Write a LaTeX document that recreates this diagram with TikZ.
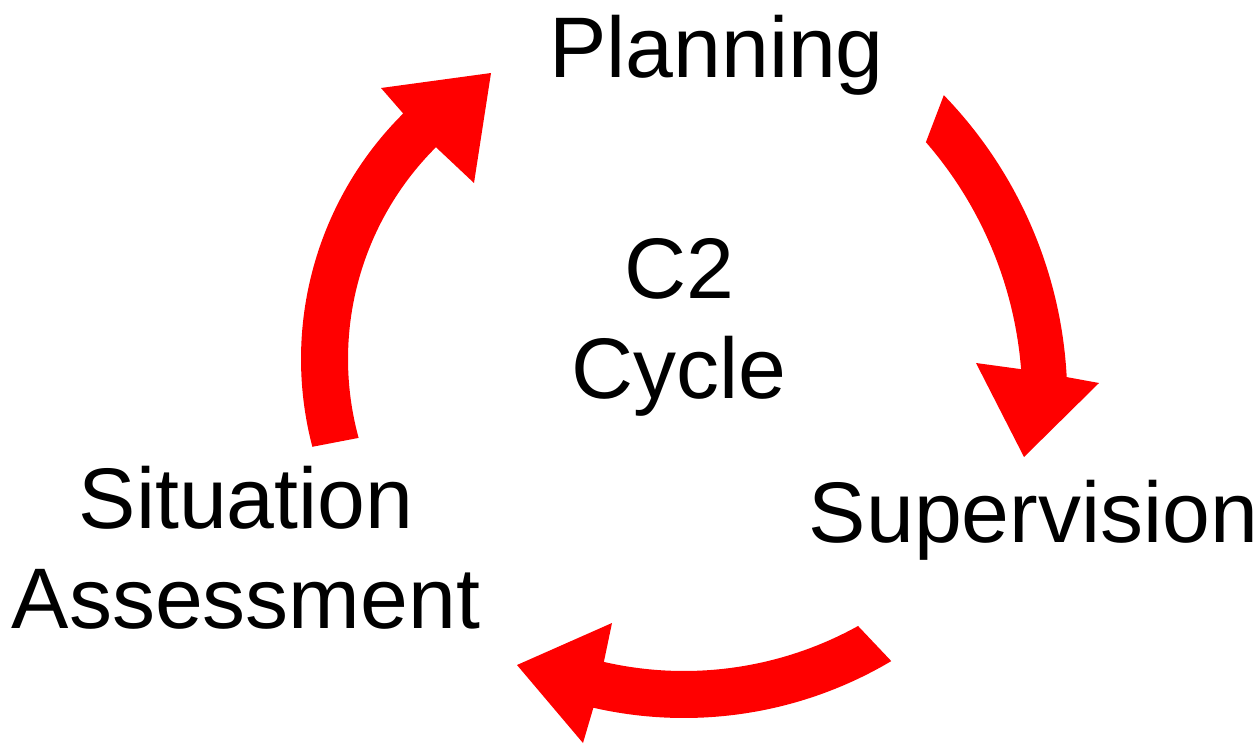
\documentclass[tikz,border=0pt]{standalone}
\usepackage{fontspec}
\setmainfont{Liberation Sans}
\begin{document}
\begin{tikzpicture}[x=1pt,y=-1pt,
  arrowfill/.style={fill=arrowred},
  label/.style={inner sep=0pt,align=center,anchor=base,
    font=\fontsize{86}{100}\selectfont}]
\definecolor{arrowred}{RGB}{255,0,0}
\useasboundingbox (0,0) rectangle (1259,744);
% circle centres of the three curved arrows
\coordinate (cL) at (647,359);
\coordinate (cR) at (629.3,400);
\coordinate (cB) at (684,312);
% left arrow: Situation Assessment -> Planning
\fill[arrowfill] ([shift={(165.3:346)}]cL) arc[start angle=165.3,end angle=225.2,radius=346]
  -- (381,88) -- (491,73) -- (474,183)
  -- ([shift={(225.1:299)}]cL) arc[start angle=225.1,end angle=164.7,radius=299] -- cycle;
% right arrow: Planning -> Supervision
\fill[arrowfill] ([shift={(-44.1:438)}]cR) arc[start angle=-44.1,end angle=-3,radius=438]
  -- (1099,383) -- (1024,457) -- (976,363)
  -- ([shift={(-4.5:393)}]cR) arc[start angle=-4.5,end angle=-41,radius=393] -- cycle;
% bottom arrow: Supervision -> Situation Assessment
\fill[arrowfill] ([shift={(61:359)}]cB) arc[start angle=61,end angle=102.9,radius=359]
  -- (612,623) -- (517,665) -- (583,743)
  -- ([shift={(102.9:406)}]cB) arc[start angle=102.9,end angle=59.3,radius=406] -- cycle;
% labels (anchor base = baseline of the last line)
\node[label] (plan) at (716.5,77) {Planning};
\node[label] (sup) at (1033.5,542) {Supervision};
\node[label] (sit) at (246,628) {Situation\\Assessment};
\node[label] (c2) at (679,398) {C2\\Cycle};
\end{tikzpicture}
\end{document}
